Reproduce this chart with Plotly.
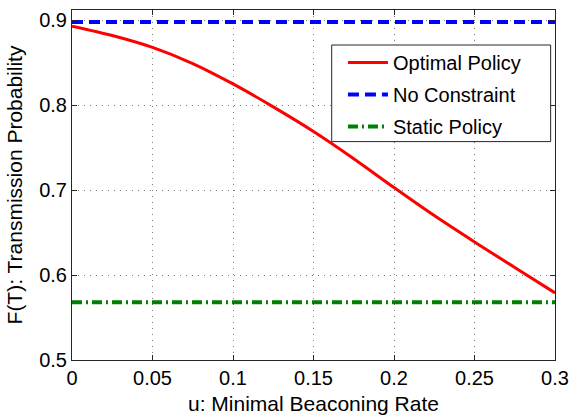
import plotly.graph_objects as go

# Minimal beaconing rate u and the resulting transmission probability F(T)
u_values = [0.0, 0.025, 0.05, 0.075, 0.1, 0.125, 0.15, 0.175, 0.2, 0.225, 0.25, 0.275, 0.3]
optimal_policy = [0.893, 0.882, 0.868, 0.849, 0.825, 0.798, 0.769, 0.737, 0.703, 0.670, 0.639, 0.609, 0.579]
no_constraint_level = 0.898
static_policy_level = 0.568

x_ticks = [0, 0.05, 0.1, 0.15, 0.2, 0.25, 0.3]
x_tick_text = ["0", "0.05", "0.1", "0.15", "0.2", "0.25", "0.3"]
y_ticks = [0.5, 0.6, 0.7, 0.8, 0.9]
y_tick_text = ["0.5", "0.6", "0.7", "0.8", "0.9"]

FONT = "Liberation Sans, Arial, Helvetica, sans-serif"

fig = go.Figure()
fig.add_trace(go.Scatter(
    x=u_values, y=optimal_policy, mode="lines", name="Optimal Policy",
    line=dict(color="#ff0000", width=3, shape="spline", smoothing=0.8), legendgroup="a",
))
fig.add_trace(go.Scatter(
    x=[u_values[0], u_values[-1]], y=[no_constraint_level] * 2, mode="lines",
    name="No Constraint", line=dict(color="#0000ff", width=4, dash="11px,6px"),
    legendgroup="b",
))
fig.add_trace(go.Scatter(
    x=[u_values[0], u_values[-1]], y=[static_policy_level] * 2, mode="lines",
    name="Static Policy", line=dict(color="#008000", width=4, dash="10px,4px,2px,4px"),
    legendgroup="c",
))

axis_common = dict(
    showline=True, linecolor="#262626", linewidth=1, mirror="ticks",
    ticks="inside", ticklen=5, tickcolor="#262626",
    showgrid=True, gridcolor="#7a7a7a", gridwidth=1, griddash="1px,5px",
    zeroline=False, automargin=False,
    tickfont=dict(family=FONT, size=20, color="black"),
)

fig.update_xaxes(
    range=[0, 0.3], tickvals=x_ticks, ticktext=x_tick_text,
    title=dict(text="u: Minimal Beaconing Rate", font=dict(family=FONT, size=21, color="black"), standoff=10),
    **axis_common,
)
fig.update_yaxes(
    range=[0.5, 0.912], tickvals=y_ticks, ticktext=y_tick_text,
    title=dict(text="F(T): Transmission Probability", font=dict(family=FONT, size=21, color="black"), standoff=10),
    **axis_common,
)

# White framed box behind the legend entries
fig.add_shape(
    type="rect", xref="paper", yref="paper",
    x0=0.5377, x1=0.991, y0=0.624, y1=0.9,
    fillcolor="white", line=dict(color="#262626", width=1), layer="above",
)

fig.update_layout(
    width=570, height=415,
    margin=dict(l=72, r=15, t=10, b=55),
    paper_bgcolor="white", plot_bgcolor="white",
    font=dict(family=FONT, size=20, color="black"),
    legend=dict(
        x=0.561, y=0.906, xanchor="left", yanchor="top",
        bgcolor="rgba(0,0,0,0)", borderwidth=0,
        font=dict(family=FONT, size=20, color="black"),
        tracegroupgap=3, itemwidth=40,
    ),
)

fig.write_html("out.html")
